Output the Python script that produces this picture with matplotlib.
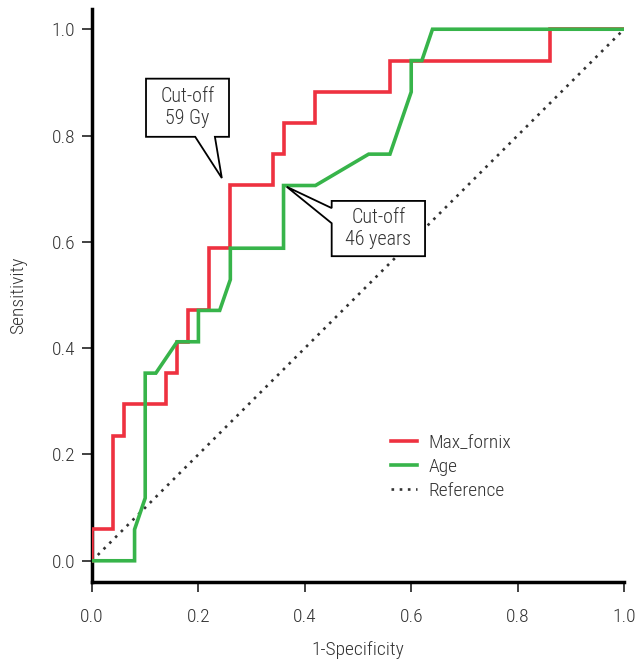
import matplotlib
matplotlib.use('Agg')
import matplotlib.pyplot as plt
import matplotlib.patches as patches
import numpy as np

plt.rcParams['font.family'] = ['Roboto Condensed', 'Liberation Sans Narrow', 'DejaVu Sans']
plt.rcParams['font.stretch'] = 'condensed'
plt.rcParams['font.weight'] = 'light'
plt.rcParams['axes.labelweight'] = 'light'

# ROC points (1-specificity, sensitivity)
fornix_fpr = [0, 0, 0.04, 0.04, 0.06, 0.06, 0.14, 0.14, 0.16, 0.16, 0.18, 0.18, 0.22, 0.22,
              0.26, 0.26, 0.34, 0.34, 0.36, 0.36, 0.42, 0.42, 0.56, 0.56, 0.86, 0.86, 1.0]
fornix_tpr = [0, 0.059, 0.059, 0.235, 0.235, 0.294, 0.294, 0.353, 0.353, 0.412, 0.412, 0.471,
              0.471, 0.588, 0.588, 0.706, 0.706, 0.765, 0.765, 0.824, 0.824, 0.882, 0.882,
              0.941, 0.941, 1.0, 1.0]
age_fpr = [0, 0.08, 0.08, 0.10, 0.10, 0.12, 0.16, 0.20, 0.20, 0.24, 0.26, 0.26, 0.36, 0.36,
           0.42, 0.52, 0.56, 0.60, 0.60, 0.62, 0.64, 1.0]
age_tpr = [0, 0, 0.059, 0.118, 0.353, 0.353, 0.412, 0.412, 0.471, 0.471, 0.529, 0.588, 0.588,
           0.706, 0.706, 0.765, 0.765, 0.882, 0.941, 0.941, 1.0, 1.0]
ref = [0, 1]

ticks = [0.0, 0.2, 0.4, 0.6, 0.8, 1.0]
red = '#ee3140'
green = '#37b44a'
txt = '#333333'

fig = plt.figure(figsize=(6.35, 6.59), dpi=100)
ax = fig.add_axes([0.1449, 0.1168, 0.8378, 0.8695])

ax.plot(fornix_fpr, fornix_tpr, color=red, lw=2.6, label='Max_fornix', solid_joinstyle='miter', zorder=3)
ax.plot(age_fpr, age_tpr, color=green, lw=2.6, label='Age', solid_joinstyle='miter', zorder=3)
ax.plot(ref, ref, color=txt, lw=1.9, ls=(0, (1, 2.1)), label='Reference', zorder=2)

ax.set_xlim(0, 1)
ax.set_ylim(-0.04, 1.038)
ax.set_xticks(ticks)
ax.set_yticks(ticks)
ax.set_xticklabels(['%.1f' % t for t in ticks], fontsize=14, color=txt)
ax.set_yticklabels(['%.1f' % t for t in ticks], fontsize=14, color=txt)
ax.tick_params(direction='out', length=7, width=1.3, colors=txt)
ax.tick_params(axis='x', pad=11.5)
ax.tick_params(axis='y', pad=5)
for s in ['top', 'right']:
    ax.spines[s].set_visible(False)
for s in ['left', 'bottom']:
    ax.spines[s].set_linewidth(2.5)
    ax.spines[s].set_color('black')
ax.set_xlabel('1-Specificity', fontsize=14, color=txt, labelpad=11, fontweight='light')
ax.set_ylabel('Sensitivity', fontsize=14, color=txt, labelpad=18, fontweight='light')

leg = ax.legend(loc='upper left', bbox_to_anchor=(0.53, 0.289), frameon=False, fontsize=14,
                handlelength=1.3, handletextpad=0.6, labelspacing=0.3)
for t in leg.get_texts():
    t.set_color(txt)

# callout 1: Cut-off 59 Gy
call1 = [(0.1015, 0.907), (0.2575, 0.907), (0.2575, 0.7976), (0.231, 0.7976), (0.244, 0.72),
         (0.194, 0.7976), (0.1015, 0.7976)]
ax.add_patch(patches.Polygon(call1, closed=True, facecolor='white', edgecolor='black', lw=1.3, zorder=5))
ax.text((0.1015 + 0.2575) / 2, (0.907 + 0.7976) / 2, 'Cut-off\n59 Gy', ha='center', va='center',
        fontsize=14.5, color=txt, linespacing=1.2, zorder=6)

# callout 2: Cut-off 46 years
call2 = [(0.4505, 0.677), (0.626, 0.677), (0.626, 0.573), (0.4505, 0.573), (0.4505, 0.635),
         (0.366, 0.7036), (0.4505, 0.6635)]
ax.add_patch(patches.Polygon(call2, closed=True, facecolor='white', edgecolor='black', lw=1.3, zorder=5))
ax.text((0.4505 + 0.626) / 2, (0.677 + 0.573) / 2, 'Cut-off\n46 years', ha='center', va='center',
        fontsize=14.5, color=txt, linespacing=1.2, zorder=6)

fig.savefig('out.png', dpi=100)
